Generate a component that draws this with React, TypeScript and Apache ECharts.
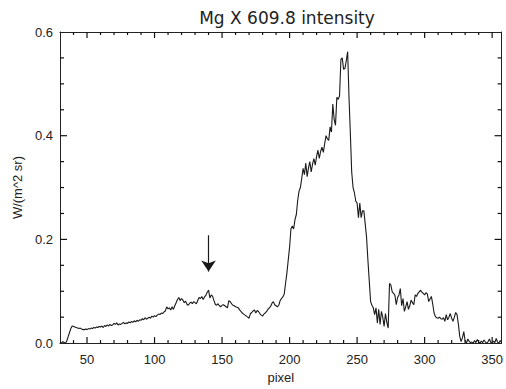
import React, { useEffect, useRef } from "react";
import * as echarts from "echarts";

const titleText = "Mg X 609.8 intensity";
const xName = "pixel";
const yName = "W/(m^2 sr)";
const xStart = 30;
const xMin = 30;
const xMax = 357;
const intensity = [
  0.002, 0.0, 0.003, 0.001, 0.0, 0.004, 0.012, 0.02, 0.028, 0.033,
  0.032, 0.031, 0.03, 0.029, 0.028, 0.029, 0.027, 0.026, 0.026, 0.027,
  0.026, 0.028, 0.027, 0.029, 0.028, 0.03, 0.029, 0.031, 0.03, 0.032,
  0.031, 0.033, 0.03, 0.034, 0.032, 0.035, 0.033, 0.036, 0.034, 0.035,
  0.038, 0.036, 0.039, 0.035, 0.037, 0.036, 0.038, 0.04, 0.037, 0.039,
  0.038, 0.041, 0.039, 0.042, 0.04, 0.043, 0.041, 0.044, 0.042, 0.045,
  0.044, 0.047, 0.045, 0.049, 0.046, 0.048, 0.05, 0.048, 0.052, 0.05,
  0.053, 0.051, 0.054, 0.056, 0.055, 0.058, 0.057, 0.06, 0.062, 0.07,
  0.066, 0.068, 0.064, 0.07, 0.065, 0.072, 0.078, 0.084, 0.088, 0.082,
  0.086, 0.083, 0.078, 0.081, 0.075, 0.073, 0.077, 0.079, 0.076, 0.08,
  0.078, 0.076, 0.082, 0.088, 0.086, 0.09, 0.084, 0.089, 0.092, 0.098,
  0.102, 0.087, 0.093, 0.09, 0.082, 0.075, 0.073, 0.076, 0.072, 0.07,
  0.073, 0.074, 0.072, 0.07, 0.068, 0.082, 0.08, 0.076, 0.073, 0.072,
  0.07, 0.069, 0.068, 0.064, 0.061, 0.058, 0.056, 0.054, 0.052, 0.05,
  0.048, 0.057, 0.059, 0.062, 0.064, 0.058, 0.063, 0.061, 0.057, 0.054,
  0.052, 0.056, 0.058, 0.061, 0.065, 0.068, 0.071, 0.077, 0.08, 0.074,
  0.072, 0.07, 0.073, 0.082, 0.086, 0.089, 0.094, 0.115, 0.135, 0.16,
  0.185, 0.22, 0.226, 0.22, 0.238, 0.248, 0.275, 0.293, 0.3, 0.318,
  0.337, 0.325, 0.347, 0.321, 0.338, 0.35, 0.33, 0.345, 0.356, 0.343,
  0.36, 0.372, 0.356, 0.37, 0.378, 0.368, 0.385, 0.4, 0.394, 0.391,
  0.417, 0.407, 0.461, 0.432, 0.42, 0.474, 0.47, 0.477, 0.547, 0.55,
  0.528, 0.53, 0.545, 0.562, 0.474, 0.404, 0.33, 0.3, 0.29, 0.274,
  0.27, 0.242, 0.27, 0.242, 0.255, 0.255, 0.23, 0.204, 0.16, 0.12,
  0.08, 0.073, 0.068, 0.055, 0.068, 0.039, 0.065, 0.036, 0.061, 0.05,
  0.032, 0.057, 0.04, 0.029, 0.115, 0.112, 0.099, 0.096, 0.092, 0.074,
  0.088, 0.093, 0.105, 0.072, 0.086, 0.061, 0.07, 0.08, 0.065, 0.072,
  0.083, 0.078, 0.074, 0.093, 0.09, 0.096, 0.099, 0.102, 0.098, 0.096,
  0.093, 0.097, 0.095, 0.08, 0.085, 0.09, 0.075, 0.058, 0.051, 0.049,
  0.048, 0.05, 0.047, 0.046, 0.049, 0.042, 0.055, 0.045, 0.05, 0.057,
  0.048, 0.042, 0.05, 0.059, 0.055, 0.036, 0.013, 0.003, 0.01, 0.022,
  0.004, 0.0, 0.008, 0.003, 0.001, 0.002, 0.0, 0.005, 0.001, 0.007,
  0.002, 0.0, 0.004, 0.001, 0.006, 0.002, 0.0, 0.003, 0.008, 0.001,
  0.0, 0.004, 0.001, 0.009, 0.002, 0.0, 0.005, 0.001,
];
const xMajorTicks = [50, 100, 150, 200, 250, 300, 350];
const xMinorTicks = [
  40, 60, 70, 80, 90, 110, 120, 130, 140, 160, 170, 180, 190, 210, 220, 230,
  240, 260, 270, 280, 290, 310, 320, 330, 340,
];
const yMin = 0;
const yMax = 0.6;
const yInterval = 0.2;
const yMajorTicks = [0.2, 0.4];
const yMinorTicks = [0.05, 0.1, 0.15, 0.25, 0.3, 0.35, 0.45, 0.5, 0.55];
const arrowPixel = [140];
const arrowTop = [0.208];
const arrowEnd = [0.138];

const axisColor = "#222";
const lineColor = "#1a1a1a";
const font = "Liberation Sans";
const xMajorLen = 6;
const xMinorLen = 3;
const yMajorLen = 7;
const yMinorLen = 4;

export default function App() {
  const ref = useRef<HTMLDivElement>(null);
  useEffect(() => {
    if (!ref.current) return;
    const chart = echarts.init(ref.current, null, { renderer: "svg" });
    const seriesData = intensity.map((v, i) => [xStart + i, v]);

    // tick marks: [x, y, length, direction(0 = x-axis tick, 1 = y-axis tick)]
    const tickData: number[][] = [
      ...xMajorTicks.map((t) => [t, yMin, xMajorLen, 0]),
      ...xMinorTicks.map((t) => [t, yMin, xMinorLen, 0]),
      ...yMajorTicks.map((t) => [xMin, t, yMajorLen, 1]),
      ...yMinorTicks.map((t) => [xMin, t, yMinorLen, 1]),
    ];

    const renderTick = (params: any, api: any) => {
      const v0 = api.value(0);
      const v1 = api.value(1);
      const len = api.value(2);
      const dir = api.value(3);
      const style = { stroke: "#111", lineWidth: 1.3 };
      if (dir === 0) {
        const a = api.coord([v0, yMin]);
        const b = api.coord([v0, yMax]);
        return {
          type: "group",
          children: [
            { type: "rect", shape: { x: a[0] - 0.6, y: a[1] - len, width: 1.2, height: len }, style: { fill: "#111" } },
            { type: "rect", shape: { x: b[0] - 0.6, y: b[1], width: 1.2, height: len }, style: { fill: "#111" } },
          ],
        };
      }
      const a = api.coord([xMin, v1]);
      const b = api.coord([xMax, v1]);
      return {
        type: "group",
        children: [
          { type: "rect", shape: { x: a[0], y: a[1] - 0.6, width: len, height: 1.2 }, style: { fill: "#111" } },
          { type: "rect", shape: { x: b[0] - len, y: b[1] - 0.6, width: len, height: 1.2 }, style: { fill: "#111" } },
        ],
      };
    };

    chart.setOption({
      animation: false,
      title: {
        text: titleText,
        left: 282,
        textAlign: "center",
        top: 4,
        textStyle: { fontSize: 17, fontWeight: "normal", fontFamily: "DejaVu Sans", color: "#222" },
      },
      grid: { left: 60, right: 3, top: 32, bottom: 42 },
      xAxis: [
        {
          type: "value",
          position: "bottom",
          min: xMin,
          max: xMax,
          axisLine: { show: true, onZero: false, lineStyle: { color: axisColor, width: 1 } },
          axisTick: { show: false },
          axisLabel: { show: true, customValues: xMajorTicks, margin: 10, fontSize: 13, color: "#222", fontFamily: font },
          splitLine: { show: false },
          name: xName,
          nameLocation: "middle",
          nameGap: 27,
          nameTextStyle: { fontSize: 13, color: "#222", fontFamily: font },
        },
        {
          type: "value",
          position: "top",
          min: xMin,
          max: xMax,
          axisLine: { show: true, onZero: false, lineStyle: { color: axisColor, width: 1 } },
          axisTick: { show: false },
          axisLabel: { show: false },
          splitLine: { show: false },
        },
      ],
      yAxis: [
        {
          type: "value",
          position: "left",
          min: yMin,
          max: yMax,
          interval: yInterval,
          axisLine: { show: true, onZero: false, lineStyle: { color: axisColor, width: 1 } },
          axisTick: { show: false },
          axisLabel: { show: true, margin: 7, fontSize: 13, color: "#222", fontFamily: font, formatter: (v: number) => v.toFixed(1) },
          splitLine: { show: false },
          name: yName,
          nameLocation: "middle",
          nameGap: 36,
          nameTextStyle: { fontSize: 13, color: "#222", fontFamily: font },
        },
        {
          type: "value",
          position: "right",
          min: yMin,
          max: yMax,
          interval: yInterval,
          axisLine: { show: true, onZero: false, lineStyle: { color: axisColor, width: 1 } },
          axisTick: { show: false },
          axisLabel: { show: false },
          splitLine: { show: false },
        },
      ],
      series: [
        {
          type: "line",
          xAxisIndex: 0,
          yAxisIndex: 0,
          data: seriesData,
          showSymbol: false,
          symbol: "none",
          lineStyle: { color: lineColor, width: 1.1 },
          markLine: {
            silent: true,
            symbol: ["none", "arrow"],
            symbolSize: 11,
            label: { show: false },
            lineStyle: { color: lineColor, width: 1.2, type: "solid" },
            data: arrowPixel.map((p, i) => [
              { coord: [p, arrowTop[i]] },
              { coord: [p, arrowEnd[i]] },
            ]),
          },
        },
        {
          type: "custom",
          coordinateSystem: "cartesian2d",
          xAxisIndex: 0,
          yAxisIndex: 0,
          clip: false,
          z: 10,
          data: tickData,
          renderItem: renderTick,
        },
      ],
    });
    return () => chart.dispose();
  }, []);
  return (
    <div
      ref={ref}
      style={{ position: "fixed", left: 0, top: 0, width: 506, height: 389, background: "#fff" }}
    />
  );
}
